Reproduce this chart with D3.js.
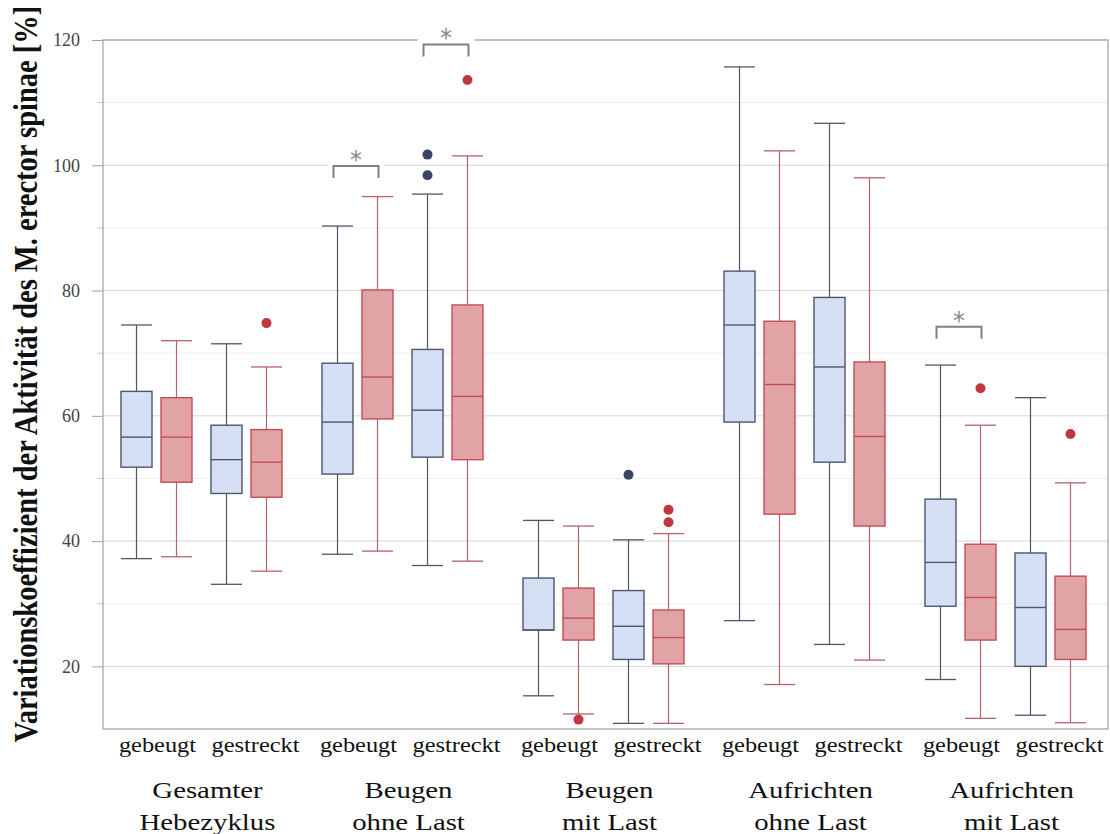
<!DOCTYPE html>
<html><head><meta charset="utf-8">
<script src="https://cdn.jsdelivr.net/npm/d3@7"></script>
<style>html,body{margin:0;padding:0;background:#fff;}svg{display:block;}</style>
</head><body>
<svg id="chart" width="1110" height="834"></svg>
<script>
const groupLabels = [["Gesamter","Hebezyklus"],["Beugen","ohne Last"],["Beugen","mit Last"],["Aufrichten","ohne Last"],["Aufrichten","mit Last"]];
const postures = ["gebeugt","gestreckt"];
const seriesNames = ["blau","rot"];
const yTicks = [20,40,60,80,100,120];
const yMinorTicks = [30,50,70,90,110];
const yTitle = "Variationskoeffizient der Aktivität des M. erector spinae [%]";

// [min, q1, median, q3, max], order: group × posture
const statsBlue = [
  [37.2, 51.8, 56.6, 63.9, 74.5],
  [33.1, 47.6, 53.0, 58.5, 71.5],
  [37.9, 50.7, 59.0, 68.4, 90.3],
  [36.1, 53.4, 60.9, 70.6, 95.4],
  [15.3, 25.8, 25.8, 34.1, 43.3],
  [10.9, 21.1, 26.4, 32.1, 40.2],
  [27.3, 59.0, 74.5, 83.1, 115.7],
  [23.5, 52.6, 67.8, 78.9, 106.7],
  [17.9, 29.6, 36.6, 46.7, 68.1],
  [12.2, 20.0, 29.4, 38.1, 62.9]
];
const statsRed = [
  [37.5, 49.4, 56.6, 62.9, 72.0],
  [35.2, 47.0, 52.6, 57.8, 67.8],
  [38.4, 59.5, 66.2, 80.1, 95.0],
  [36.8, 53.0, 63.1, 77.7, 101.5],
  [12.4, 24.2, 27.7, 32.5, 42.4],
  [10.9, 20.4, 24.6, 29.0, 41.2],
  [17.1, 44.3, 65.0, 75.1, 102.3],
  [21.0, 42.4, 56.7, 68.6, 98.0],
  [11.7, 24.2, 31.0, 39.5, 58.5],
  [11.0, 21.1, 25.9, 34.4, 49.3]
];
const outliersBlue = [[],[],[],[101.7,98.4],[],[50.6],[],[],[],[]];
const outliersRed = [[],[74.8],[],[113.6],[11.5],[45.0,43.0],[],[],[64.4],[57.1]];
// significance brackets: group index, posture index, bracket level (value)
const sigGroup = [1, 1, 4];
const sigPosture = [0, 1, 0];
const sigLevel = [99.9, 119.3, 74.2];

const svg = d3.select("#chart");
const L = 103, R = 1108, T = 40, B = 729;
const y = d3.scaleLinear().domain([10,120]).range([B,T]);
const xGroup = d3.scaleBand().domain(d3.range(groupLabels.length)).range([101,1106]);
const xPosture = d3.scalePoint().domain(postures).range([-45,45]);
const xSeries = d3.scalePoint().domain(seriesNames).range([-20,20]);
const boxW = 31;
const gc = i => xGroup(i) + xGroup.bandwidth()/2;
const cx = (i, p, s) => gc(i) + xPosture(p) + xSeries(s);

// grid
svg.append("g").selectAll("line").data(yMinorTicks).join("line")
  .attr("x1",L).attr("x2",R).attr("y1",d=>y(d)).attr("y2",d=>y(d))
  .attr("stroke","#ededed").attr("stroke-width",1);
svg.append("g").selectAll("line").data(yTicks).join("line")
  .attr("x1",L).attr("x2",R).attr("y1",d=>y(d)).attr("y2",d=>y(d))
  .attr("stroke","#d6d6d6").attr("stroke-width",1);

// axis
const axis = d3.axisLeft(y).tickValues(yTicks).tickSize(11).tickPadding(12).tickFormat(d3.format("d"));
const ag = svg.append("g").attr("transform",`translate(${L},0)`).call(axis);
ag.select(".domain").remove();
ag.selectAll(".tick line").attr("stroke","#a0a0a0");
ag.selectAll(".tick text").attr("font-family","'Liberation Serif', serif").attr("font-size",18).attr("fill","#444");
svg.append("g").selectAll("line").data(yMinorTicks).join("line")
  .attr("x1",L-6).attr("x2",L).attr("y1",d=>y(d)).attr("y2",d=>y(d))
  .attr("stroke","#c8c8c8");

// frame
svg.append("rect").attr("x",L).attr("y",T).attr("width",R-L).attr("height",B-T)
  .attr("fill","none").attr("stroke","#a8a8a8").attr("stroke-width",1.3);

// boxes
const styles = {
  blau: {fill:"#d6e0f5", stroke:"#4d5670", whisker:"#50566a", out:"#3b4463"},
  rot:  {fill:"#e2a3a7", stroke:"#c24e58", whisker:"#b8626a", out:"#c3363f"}
};
const boxes = [];
groupLabels.forEach((g,i)=>postures.forEach((p,j)=>{
  const k = i*2+j;
  boxes.push({i,p,s:"blau",st:statsBlue[k],out:outliersBlue[k]});
  boxes.push({i,p,s:"rot",st:statsRed[k],out:outliersRed[k]});
}));
const bg = svg.append("g").selectAll("g").data(boxes).join("g");
bg.each(function(d){
  const g = d3.select(this), c = cx(d.i,d.p,d.s), st = styles[d.s];
  const [mn,q1,md,q3,mx] = d.st;
  g.append("line").attr("x1",c).attr("x2",c).attr("y1",y(mx)).attr("y2",y(q3)).attr("stroke",st.whisker).attr("stroke-width",1.2);
  g.append("line").attr("x1",c).attr("x2",c).attr("y1",y(q1)).attr("y2",y(mn)).attr("stroke",st.whisker).attr("stroke-width",1.2);
  g.append("line").attr("x1",c-boxW/2).attr("x2",c+boxW/2).attr("y1",y(mx)).attr("y2",y(mx)).attr("stroke",st.whisker).attr("stroke-width",1.3);
  g.append("line").attr("x1",c-boxW/2).attr("x2",c+boxW/2).attr("y1",y(mn)).attr("y2",y(mn)).attr("stroke",st.whisker).attr("stroke-width",1.3);
  g.append("rect").attr("x",c-boxW/2).attr("y",y(q3)).attr("width",boxW).attr("height",y(q1)-y(q3))
    .attr("fill",st.fill).attr("stroke",st.stroke).attr("stroke-width",1.4);
  g.append("line").attr("x1",c-boxW/2).attr("x2",c+boxW/2).attr("y1",y(md)).attr("y2",y(md)).attr("stroke",st.stroke).attr("stroke-width",1.4);
  g.selectAll("circle").data(d.out).join("circle").attr("cx",c).attr("cy",v=>y(v)).attr("r",5).attr("fill",st.out);
});

// significance brackets
sigGroup.forEach((gi,n)=>{
  const p = postures[sigPosture[n]];
  const x1 = cx(gi,p,"blau")-4, x2 = cx(gi,p,"rot")+1, yy = y(sigLevel[n]);
  svg.append("rect").attr("x",x1-6).attr("y",yy-18).attr("width",x2-x1+12).attr("height",32).attr("fill","#fff");
  svg.append("path").attr("d",`M${x1},${yy+12}V${yy}H${x2}V${yy+12}`).attr("fill","none").attr("stroke","#808080").attr("stroke-width",2);
  svg.append("text").attr("x",(x1+x2)/2).attr("y",yy+2).attr("text-anchor","middle")
    .attr("font-family","'DejaVu Sans', sans-serif").attr("font-size",24).attr("fill","#888").text("*");
});

// x labels
const serif = "'Liberation Serif', 'Times New Roman', serif";
groupLabels.forEach((g,i)=>{
  postures.forEach((p,j)=>{
    const lx = gc(i) + xPosture(p) + (j===0 ? 1 : 9);
    svg.append("text").attr("transform",`translate(${lx},752) scale(1.22,1)`).attr("text-anchor","middle")
      .attr("font-family",serif).attr("font-size",20).attr("fill","#111").text(p);
  });
  g.forEach((t,k)=>{
    svg.append("text").attr("transform",`translate(${gc(i)+6},${798+k*32}) scale(1.2,1)`).attr("text-anchor","middle")
      .attr("font-family",serif).attr("font-size",24).attr("fill","#111").text(t);
  });
});

// y title
svg.append("text").attr("transform","translate(37,374) rotate(-90) scale(1,1.15)").attr("text-anchor","middle")
  .attr("font-family",serif).attr("font-weight","bold").attr("font-size",28.5).attr("fill","#111").text(yTitle);
</script>
</body></html>
